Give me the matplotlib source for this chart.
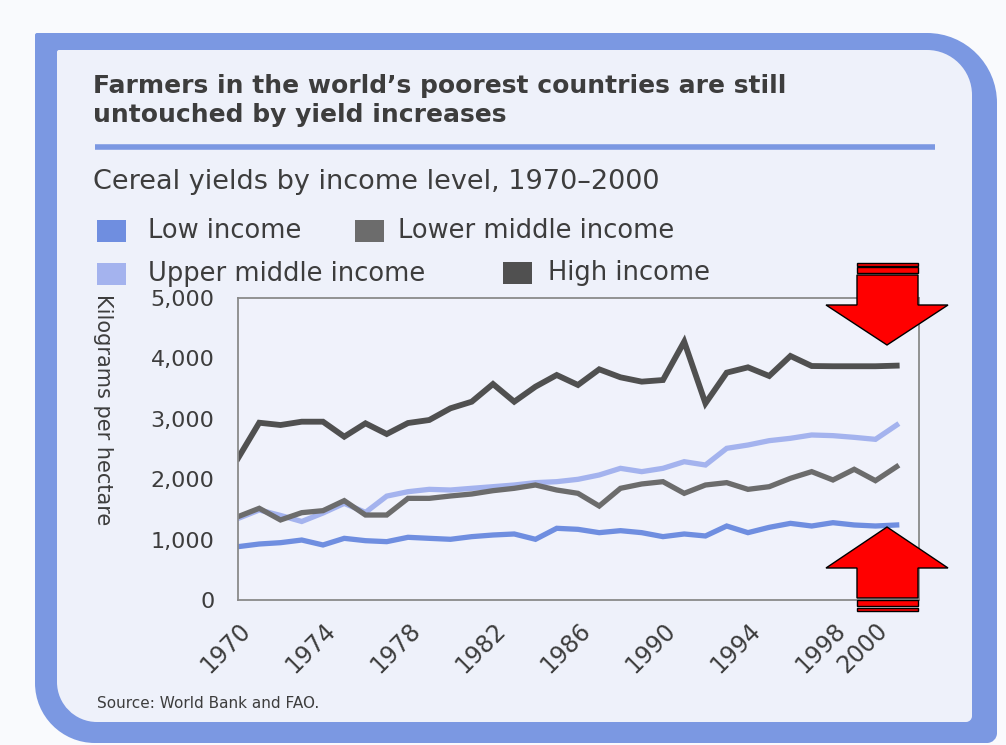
import numpy as np
import matplotlib.pyplot as plt
from matplotlib.path import Path
from matplotlib.patches import PathPatch, Polygon, Rectangle
import matplotlib.transforms as mtransforms

# data (kg per hectare)
years = list(range(1970, 2002))
low_income = [883, 927, 949, 993, 911, 1021, 982, 966, 1038, 1021,
              1005, 1049, 1076, 1093, 1005, 1187, 1170, 1115, 1148, 1115,
              1049, 1093, 1060, 1225, 1115, 1203, 1269, 1225, 1280, 1242,
              1225, 1242]
lower_middle = [1380, 1518, 1325, 1446, 1479, 1645, 1407, 1407, 1683, 1683,
                1722, 1755, 1810, 1849, 1904, 1821, 1766, 1556, 1849, 1921,
                1959, 1766, 1904, 1943, 1832, 1876, 2015, 2125, 1987, 2164,
                1976, 2208]
upper_middle = [1350, 1490, 1400, 1300, 1440, 1600, 1450, 1720, 1793, 1832,
                1821, 1849, 1876, 1904, 1943, 1959, 1998, 2070, 2180, 2125,
                2180, 2290, 2235, 2511, 2566, 2638, 2677, 2732, 2721, 2693,
                2660, 2897]
high_income = [2346, 2935, 2897, 2952, 2952, 2704, 2925, 2748, 2930, 2980,
               3174, 3283, 3576, 3283, 3532, 3725, 3560, 3819, 3687, 3615,
               3642, 4277, 3256, 3764, 3852, 3709, 4040, 3874, 3870, 3870,
               3870, 3880]
xtick_years = [1970, 1974, 1978, 1982, 1986, 1990, 1994, 1998, 2000]
yticks = [0, 1000, 2000, 3000, 4000, 5000]
series_names = ["Low income", "Lower middle income", "Upper middle income", "High income"]

c_low = "#6f8ee0"
c_lowmid = "#6c6c6c"
c_upmid = "#a4b3ee"
c_high = "#505050"
c_frame = "#7b98e2"
c_panel = "#eef1fa"
c_text = "#3d3d3d"

W, H = 1006, 745
fig = plt.figure(figsize=(W / 100, H / 100), dpi=100)
fig.patch.set_facecolor("#f9fafd")

# background layer in pixel coords
bg = fig.add_axes([0, 0, 1, 1], zorder=0)
bg.set_xlim(0, W)
bg.set_ylim(H, 0)
bg.axis("off")


def rrect(x0, y0, x1, y1, r_tl, r_tr, r_br, r_bl):
    # rounded rectangle path, y grows downwards
    k = 0.5523
    verts = [(x0 + r_tl, y0), (x1 - r_tr, y0),
             (x1 - r_tr + k * r_tr, y0), (x1, y0 + r_tr - k * r_tr), (x1, y0 + r_tr),
             (x1, y1 - r_br),
             (x1, y1 - r_br + k * r_br), (x1 - r_br + k * r_br, y1), (x1 - r_br, y1),
             (x0 + r_bl, y1),
             (x0 + r_bl - k * r_bl, y1), (x0, y1 - r_bl + k * r_bl), (x0, y1 - r_bl),
             (x0, y0 + r_tl),
             (x0, y0 + r_tl - k * r_tl), (x0 + r_tl - k * r_tl, y0), (x0 + r_tl, y0),
             (x0 + r_tl, y0)]
    codes = [Path.MOVETO, Path.LINETO,
             Path.CURVE4, Path.CURVE4, Path.CURVE4,
             Path.LINETO,
             Path.CURVE4, Path.CURVE4, Path.CURVE4,
             Path.LINETO,
             Path.CURVE4, Path.CURVE4, Path.CURVE4,
             Path.LINETO,
             Path.CURVE4, Path.CURVE4, Path.CURVE4,
             Path.CLOSEPOLY]
    return Path(verts, codes)


bg.add_patch(PathPatch(rrect(35, 33, 997, 743, 2, 70, 10, 60), fc=c_frame, ec="none"))
bg.add_patch(PathPatch(rrect(57, 50, 972, 722, 2, 45, 6, 40), fc=c_panel, ec="none"))
bg.plot([95, 935], [147, 147], color=c_frame, lw=4, solid_capstyle="butt")

fig.text(93 / W, 1 - 86 / H, "Farmers in the world\u2019s poorest countries are still",
         fontsize=18, fontweight="heavy", color=c_text, va="center", ha="left")
fig.text(93 / W, 1 - 115 / H, "untouched by yield increases",
         fontsize=18, fontweight="heavy", color=c_text, va="center", ha="left")
fig.text(93 / W, 1 - 182 / H, "Cereal yields by income level, 1970\u20132000",
         fontsize=19.5, color=c_text, va="center", ha="left")

# legend drawn by hand to match the two-row layout
legend_items = [(series_names[0], c_low, 97, 231, 148),
                (series_names[1], c_lowmid, 355, 231, 398),
                (series_names[2], c_upmid, 97, 274, 148),
                (series_names[3], c_high, 503, 273, 548)]
for name, col, sx, sy, tx in legend_items:
    bg.add_patch(Rectangle((sx, sy - 11), 29, 22, fc=col, ec="none"))
    fig.text(tx / W, 1 - sy / H, name, fontsize=18.5, color=c_text, va="center", ha="left")

fig.text(103 / W, 1 - 410 / H, "Kilograms per hectare", rotation=270,
         fontsize=15, color=c_text, va="center", ha="center")
fig.text(97 / W, 1 - 703 / H, "Source: World Bank and FAO.",
         fontsize=11, color=c_text, va="center", ha="left")

# main chart
ax = fig.add_axes([238 / W, 1 - 600 / H, 681 / W, 302 / H], zorder=1)
ax.set_facecolor("#f0f2fb")
ax.plot(years, low_income, color=c_low, lw=3.8, solid_joinstyle="miter", label=series_names[0])
ax.plot(years, upper_middle, color=c_upmid, lw=3.8, solid_joinstyle="miter", label=series_names[2])
ax.plot(years, lower_middle, color=c_lowmid, lw=3.8, solid_joinstyle="miter", label=series_names[1])
ax.plot(years, high_income, color=c_high, lw=4.2, solid_joinstyle="miter", label=series_names[3])
ax.set_xlim(1970, 2002.05)
ax.set_ylim(0, 5000)
ax.set_yticks(yticks)
ax.set_yticklabels([f"{v:,}" for v in yticks], fontsize=16, color=c_text)
ax.set_xticks(xtick_years)
ax.set_xticklabels([str(y) for y in xtick_years], fontsize=17, color=c_text,
                   rotation=45, ha="right", va="top", rotation_mode="anchor")
offset = mtransforms.ScaledTranslation(10 / 100, 0, fig.dpi_scale_trans)
for lab in ax.get_xticklabels():
    lab.set_transform(lab.get_transform() + offset)
ax.tick_params(axis="both", length=0)
ax.tick_params(axis="y", pad=17)
ax.tick_params(axis="x", pad=13)
for sp in ax.spines.values():
    sp.set_color("#8a8a8a")
    sp.set_linewidth(1.3)

# red striped arrows on top
fg = fig.add_axes([0, 0, 1, 1], zorder=2)
fg.set_xlim(0, W)
fg.set_ylim(H, 0)
fg.axis("off")
fg.patch.set_alpha(0)

down = [(857, 275), (918, 275), (918, 305), (948, 305), (887, 345), (826, 305), (857, 305)]
up = [(857, 598), (918, 598), (918, 568), (948, 568), (887, 527), (826, 568), (857, 568)]
for pts in (down, up):
    fg.add_patch(Polygon(pts, closed=True, fc="#ff0000", ec="black", lw=1))
for y0, y1 in [(262.5, 265.5), (267, 273), (600, 606), (608, 611)]:
    fg.add_patch(Rectangle((857, y0), 61, y1 - y0, fc="#ff0000", ec="black", lw=1))

fig.savefig("out.png", dpi=100, facecolor=fig.get_facecolor())
